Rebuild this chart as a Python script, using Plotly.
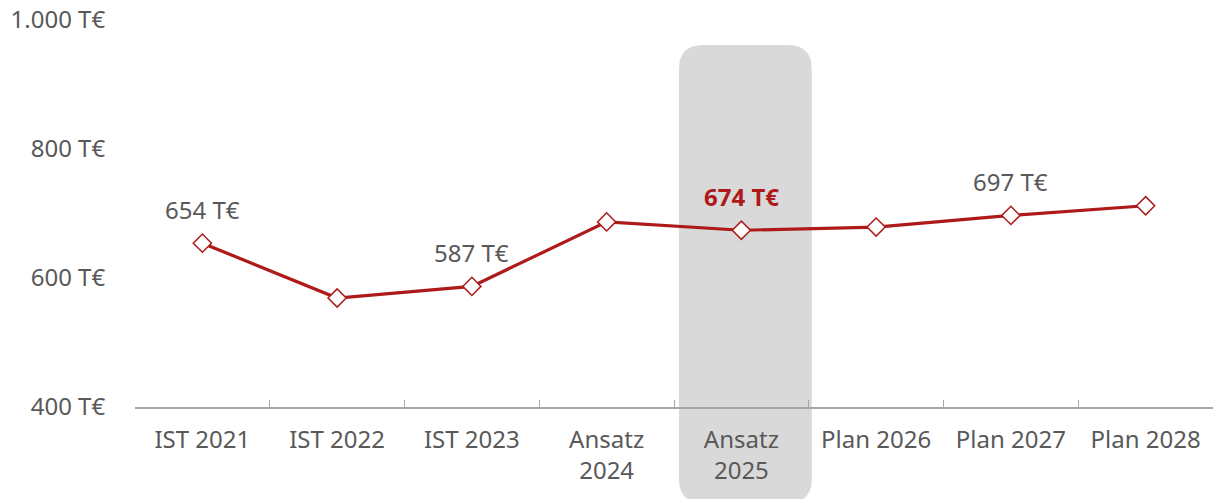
import plotly.graph_objects as go

# data
categories = ["IST 2021", "IST 2022", "IST 2023", "Ansatz<br>2024", "Ansatz<br>2025",
              "Plan 2026", "Plan 2027", "Plan 2028"]
values = [654, 569, 587, 687, 674, 679, 697, 712]
labelled = [0, 2, 4, 6]          # points that carry a value label
highlight = 4                    # index of the highlighted category
y_ticks = [400, 600, 800, 1000]
y_ticktext = [f"{v:,} T€".replace(",", ".") for v in y_ticks]

red = "#ae1a1a"
grey_text = "#595959"
font_family = "Noto Sans, Open Sans, sans-serif"
fs = 24

W, H = 1214, 499
ml, mr, mt, mb = 135, 1, 20, 92
pw, ph = W - ml - mr, H - mt - mb

fig = go.Figure()
fig.add_trace(go.Scatter(
    x=categories,
    y=values,
    mode="lines+markers",
    line=dict(color=red, width=3.2),
    marker=dict(symbol="diamond", size=14, color="white",
                line=dict(color=red, width=1.5)),
    hoverinfo="skip",
    showlegend=False,
    cliponaxis=False,
))

for i in labelled:
    txt = f"{values[i]} T€"
    col = grey_text
    if i == highlight:
        txt = f"<b>{txt}</b>"
        col = red
    fig.add_annotation(
        x=categories[i], y=values[i], text=txt, showarrow=False,
        yshift=34, font=dict(size=fs, color=col, family=font_family),
    )

# rounded grey band behind the highlighted category (paper coords)
n = len(categories)
cw = pw / n
x0 = (highlight * cw + 5) / pw
x1 = ((highlight + 1) * cw + 3) / pw
y1 = (ph - (45 - mt)) / ph
y0 = -(H + 4 - mt - ph) / ph
rx, ry = 24 / pw, 24 / ph
path = (f"M {x0+rx},{y1} L {x1-rx},{y1} Q {x1},{y1} {x1},{y1-ry} "
        f"L {x1},{y0+ry} Q {x1},{y0} {x1-rx},{y0} L {x0+rx},{y0} "
        f"Q {x0},{y0} {x0},{y0+ry} L {x0},{y1-ry} Q {x0},{y1} {x0+rx},{y1} Z")
fig.add_shape(type="path", path=path, xref="paper", yref="paper",
              fillcolor="#d9d9d9", line=dict(width=0), layer="below")

fig.update_layout(
    width=W, height=H,
    margin=dict(l=ml, r=mr, t=mt, b=mb, autoexpand=False),
    paper_bgcolor="white",
    plot_bgcolor="rgba(0,0,0,0)",
    font=dict(family=font_family, size=fs, color=grey_text),
)
fig.update_xaxes(
    automargin=False, ticklabeloverflow="allow",
    range=[-0.5, n - 0.5],
    showline=True, linecolor="#a6a6a6", linewidth=1.5,
    ticks="inside", ticklen=7, tickcolor="#a6a6a6", tickwidth=1,
    tickson="boundaries", showgrid=False, ticklabelstandoff=10,
    tickfont=dict(size=fs, color=grey_text),
)
fig.update_yaxes(
    automargin=False, ticklabeloverflow="allow",
    range=[400, 1000], tickvals=y_ticks, ticktext=y_ticktext,
    showgrid=False, zeroline=False, showline=False,
    ticks="outside", ticklen=24, tickcolor="rgba(0,0,0,0)",
    tickfont=dict(size=fs, color=grey_text),
)

# drop the default page margin so the figure sits at the window's corner
fig.write_html("out.html", config={"displayModeBar": False},
               post_script="document.body.style.margin='0';document.body.style.overflow='hidden';")
